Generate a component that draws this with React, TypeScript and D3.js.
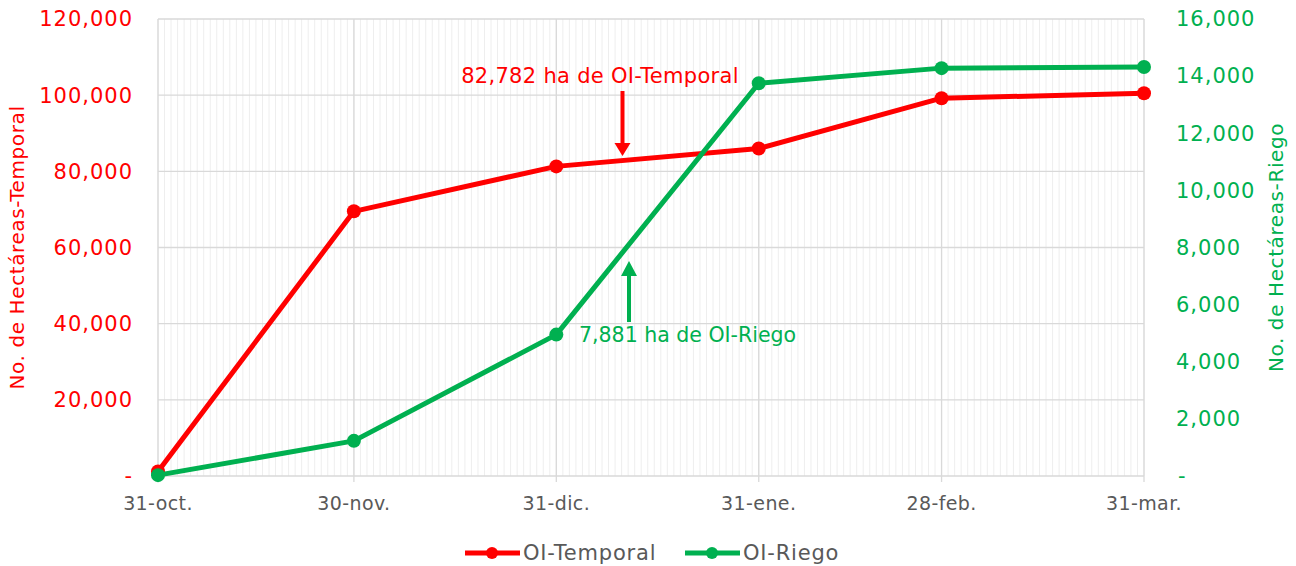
import * as d3 from "d3";

const fechas = ["2018-10-31", "2018-11-30", "2018-12-31", "2019-01-31", "2019-02-28", "2019-03-31"];
const etiquetas = ["31-oct.", "30-nov.", "31-dic.", "31-ene.", "28-feb.", "31-mar."];
const temporal = [1200, 69500, 81300, 86000, 99200, 100500];
const riego = [30, 1230, 4950, 13750, 14280, 14320];
const ticksIzq = [0, 20000, 40000, 60000, 80000, 100000, 120000];
const ticksDer = [0, 2000, 4000, 6000, 8000, 10000, 12000, 14000, 16000];

const ROJO = "#FF0000";
const VERDE = "#00B050";
const GRIS = "#595959";
const FONT = "'DejaVu Sans', sans-serif";

export default function App() {
  const width = 1296;
  const height = 566;
  const m = { left: 158, right: 1144, top: 19, bottom: 476 };

  const dates = fechas.map((f) => new Date(f + "T00:00:00Z"));
  const x = d3.scaleUtc().domain([dates[0], dates[dates.length - 1]]).range([m.left, m.right]);
  const yL = d3.scaleLinear().domain([0, 120000]).range([m.bottom, m.top]);
  const yR = d3.scaleLinear().domain([0, 16000]).range([m.bottom, m.top]);
  const days = d3.utcDay.range(dates[0], d3.utcDay.offset(dates[dates.length - 1], 1));
  const fmt = (v: number) => (v === 0 ? "-" : d3.format(",")(v));

  const lineL = d3.line<number>().x((_, i) => x(dates[i])).y((d) => yL(d));
  const lineR = d3.line<number>().x((_, i) => x(dates[i])).y((d) => yR(d));

  const annT = { x: 622.5, v: 82782 };
  const annR = { x: 629, v: 7881 };

  return (
    <svg width={width} height={height} style={{ display: "block", position: "absolute", left: 0, top: 0 }} fontFamily={FONT}>
      <rect width={width} height={height} fill="#fff" />
      {/* líneas diarias */}
      {days.map((d, i) => (
        <line key={"d" + i} x1={x(d)} x2={x(d)} y1={m.top} y2={m.bottom} stroke="#eeeeee" strokeWidth={1} />
      ))}
      {ticksIzq.map((t) => (
        <line key={"h" + t} x1={m.left} x2={m.right} y1={yL(t)} y2={yL(t)} stroke="#d9d9d9" strokeWidth={1.3} />
      ))}
      {dates.map((d, i) => (
        <line key={"m" + i} x1={x(d)} x2={x(d)} y1={m.top} y2={m.bottom + 6} stroke="#d9d9d9" strokeWidth={1.3} />
      ))}
      {/* ejes */}
      {ticksIzq.map((t) => (
        <text key={"l" + t} x={133} y={yL(t)} dy="0.35em" textAnchor="end" fill={ROJO} fontSize={21} letterSpacing={1}>
          {fmt(t)}
        </text>
      ))}
      {ticksDer.map((t) => (
        <text key={"r" + t} x={t === 0 ? 1178 : 1176} y={yR(t)} dy="0.35em" textAnchor="start" fill={VERDE} fontSize={21} letterSpacing={1}>
          {fmt(t)}
        </text>
      ))}
      {dates.map((d, i) => (
        <text key={"x" + i} x={x(d)} y={503} dy="0.35em" textAnchor="middle" fill={GRIS} fontSize={19} letterSpacing={0.4}>
          {etiquetas[i]}
        </text>
      ))}
      <text transform={`translate(24,${(m.top + m.bottom) / 2}) rotate(-90)`} textAnchor="middle" fill={ROJO} fontSize={20} letterSpacing={0.6}>
        No. de Hectáreas-Temporal
      </text>
      <text transform={`translate(1283,${(m.top + m.bottom) / 2}) rotate(-90)`} textAnchor="middle" fill={VERDE} fontSize={20} letterSpacing={0.6}>
        No. de Hectáreas-Riego
      </text>
      {/* series */}
      <path d={lineL(temporal)!} fill="none" stroke={ROJO} strokeWidth={5} strokeLinejoin="round" />
      {temporal.map((v, i) => (
        <circle key={"ct" + i} cx={x(dates[i])} cy={yL(v)} r={7} fill={ROJO} />
      ))}
      <path d={lineR(riego)!} fill="none" stroke={VERDE} strokeWidth={5} strokeLinejoin="round" />
      {riego.map((v, i) => (
        <circle key={"cr" + i} cx={x(dates[i])} cy={yR(v)} r={7} fill={VERDE} />
      ))}
      {/* anotaciones */}
      <line x1={annT.x} x2={annT.x} y1={91} y2={144} stroke={ROJO} strokeWidth={4} />
      <path d={`M${annT.x - 8},143 L${annT.x + 8},143 L${annT.x},156 z`} fill={ROJO} />
      <text x={600} y={76} dy="0.35em" textAnchor="middle" fill={ROJO} fontSize={21} letterSpacing={0.3}>
        {d3.format(",")(annT.v)} ha de OI-Temporal
      </text>
      <line x1={annR.x} x2={annR.x} y1={322} y2={275} stroke={VERDE} strokeWidth={4} />
      <path d={`M${annR.x - 8},276 L${annR.x + 8},276 L${annR.x},261 z`} fill={VERDE} />
      <text x={579} y={335} dy="0.35em" textAnchor="start" fill={VERDE} fontSize={20.5} letterSpacing={0}>
        {d3.format(",")(annR.v)} ha de OI-Riego
      </text>
      {/* leyenda */}
      <line x1={465} x2={520} y1={553} y2={553} stroke={ROJO} strokeWidth={5} />
      <circle cx={492} cy={553} r={6} fill={ROJO} />
      <text x={523} y={553} dy="0.35em" fill={GRIS} fontSize={21} letterSpacing={0.8}>OI-Temporal</text>
      <line x1={685} x2={740} y1={553} y2={553} stroke={VERDE} strokeWidth={5} />
      <circle cx={712} cy={553} r={6} fill={VERDE} />
      <text x={743} y={553} dy="0.35em" fill={GRIS} fontSize={21} letterSpacing={0.8}>OI-Riego</text>
    </svg>
  );
}
